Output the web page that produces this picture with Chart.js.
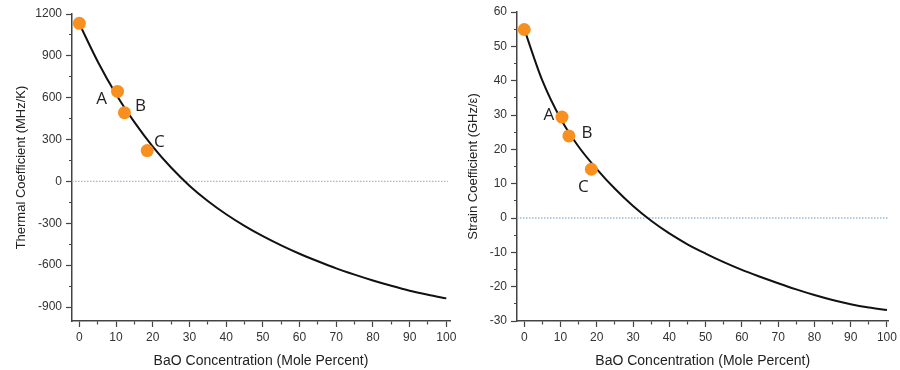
<!DOCTYPE html>
<html>
<head>
<meta charset="utf-8">
<script src="https://cdn.jsdelivr.net/npm/chart.js@4.4.1/dist/chart.umd.min.js"></script>
<style>
  html, body { margin: 0; padding: 0; background: #ffffff; }
  body { width: 900px; height: 370px; position: relative; overflow: hidden; }
  .box { position: absolute; top: 0; height: 370px; }
  #leftBox { left: 0; width: 470px; }
  #rightBox { left: 450px; width: 450px; }
</style>
</head>
<body>
<div class="box" id="leftBox"><canvas id="thermal" width="470" height="370"></canvas></div>
<div class="box" id="rightBox"><canvas id="strain" width="450" height="370"></canvas></div>
<script>
// ---- data ----
const concentration = [0, 5, 10, 15, 20, 25, 30, 35, 40, 45, 50, 55, 60, 65, 70, 75, 80, 85, 90, 95, 100];
const thermalCurve = [1130, 860, 625, 425, 250, 100, -30, -140, -235, -318, -392, -458, -518, -572, -623, -668, -710, -748, -783, -812, -838];
const strainCurve = [55, 40, 29, 20.75, 14.25, 8.5, 3.5, -0.8, -4.5, -7.65, -10.35, -12.85, -15.1, -17.1, -19.0, -20.8, -22.45, -23.9, -25.1, -26.05, -26.8];

const sampleX = [0, 10.4, 12.3, 18.5];
const thermalSamples = [1133, 645, 493, 221];
const strainSamples = [54.9, 29.4, 23.9, 14.2];
const sampleLabels = ['', 'A', 'B', 'C'];

const zeroLineX = [-2, 100.4];
const zeroLineY = [0, 0];

const xTickValues = [0, 5, 10, 15, 20, 25, 30, 35, 40, 45, 50, 55, 60, 65, 70, 75, 80, 85, 90, 95, 100];
const thermalTickValues = [-900, -750, -600, -450, -300, -150, 0, 150, 300, 450, 600, 750, 900, 1050, 1200];
const strainTickValues = [-30, -25, -20, -15, -10, -5, 0, 5, 10, 15, 20, 25, 30, 35, 40, 45, 50, 55, 60];

// ---- styling ----
Chart.defaults.font.family = "'Liberation Sans', Arial, sans-serif";
const axisColor = '#444444';
const textColor = '#333333';
const orange = '#F7901E';

function pairs(xs, ys) { return xs.map((x, i) => ({ x: x, y: ys[i] })); }
function isMajor(v, step) { return Math.abs(v % step) < 1e-9; }

const labelPlugin = {
  id: 'pointLetters',
  afterDatasetsDraw(chart, args, opts) {
    const meta = chart.getDatasetMeta(0);
    const ctx = chart.ctx;
    ctx.save();
    ctx.font = "17px 'Open Sans', 'Liberation Sans', sans-serif";
    ctx.fillStyle = '#222222';
    ctx.textAlign = 'center';
    ctx.textBaseline = 'middle';
    sampleLabels.forEach((t, i) => {
      if (!t) return;
      const el = meta.data[i];
      const off = opts.offsets[i];
      ctx.fillText(t, el.x + off[0], el.y + off[1]);
    });
    ctx.restore();
  }
};

function makeChart(id, curve, samples, yMin, yMax, yTicks, majorStep, yTitle, cfg) {
  return new Chart(document.getElementById(id), {
    type: 'scatter',
    data: {
      datasets: [
        {
          data: pairs(sampleX, samples),
          pointRadius: 6.5,
          pointHoverRadius: 6.5,
          pointBackgroundColor: orange,
          pointBorderColor: orange,
          pointBorderWidth: 0,
          showLine: false
        },
        {
          data: pairs(concentration, curve),
          showLine: true,
          borderColor: '#111111',
          borderWidth: 2,
          pointRadius: 0,
          cubicInterpolationMode: 'monotone'
        },
        {
          data: pairs(zeroLineX, zeroLineY),
          showLine: true,
          borderColor: '#9DB8D2',
          borderWidth: 1.3,
          borderDash: [1.5, 1.5],
          pointRadius: 0
        }
      ]
    },
    options: {
      responsive: false,
      animation: false,
      devicePixelRatio: 1,
      layout: { padding: { top: cfg.top, right: cfg.right, bottom: 0, left: 0 } },
      plugins: {
        legend: { display: false },
        tooltip: { enabled: false },
        pointLetters: { offsets: cfg.offsets }
      },
      scales: {
        x: {
          type: 'linear',
          min: -2,
          max: cfg.xMax,
          afterBuildTicks: s => { s.ticks = xTickValues.map(v => ({ value: v })); },
          afterFit: s => { s.height = 49; },
          border: { display: true, color: axisColor, width: 1.5 },
          grid: {
            drawOnChartArea: false, drawTicks: true, tickLength: 6, tickColor: axisColor, tickWidth: 1.2,
            tickBorderDash: c => (c.tick && isMajor(c.tick.value, 10) ? [] : [3, 20])
          },
          ticks: {
            autoSkip: false, maxRotation: 0, padding: 3, color: textColor,
            font: { size: 12 },
            callback: v => (isMajor(v, 10) ? String(v) : '')
          },
          title: {
            display: true, text: 'BaO Concentration (Mole Percent)', color: '#222222',
            font: { size: 14 }, padding: { top: 3, bottom: 0 }
          }
        },
        y: {
          type: 'linear',
          min: yMin,
          max: yMax,
          afterBuildTicks: s => { s.ticks = yTicks.map(v => ({ value: v })); },
          afterFit: s => { s.width = cfg.yWidth; },
          border: { display: true, color: axisColor, width: 1.5 },
          grid: {
            drawOnChartArea: false, drawTicks: true, tickLength: 6, tickColor: axisColor, tickWidth: 1.2,
            tickBorderDash: c => (c.tick && isMajor(c.tick.value, majorStep) ? [] : [0, 3, 4, 20])
          },
          ticks: {
            autoSkip: false, padding: 4, color: textColor,
            font: { size: 12 },
            callback: v => (isMajor(v, majorStep) ? String(v) : '')
          },
          title: {
            display: true, text: yTitle, color: '#222222',
            font: { size: 13 }, padding: { top: cfg.titlePad, bottom: 0 }
          }
        }
      }
    },
    plugins: [labelPlugin]
  });
}

makeChart('thermal', thermalCurve, thermalSamples, -1000, 1200, thermalTickValues, 300,
  'Thermal Coefficient (MHz/K)',
  { top: 14, right: 20, xMax: 101, yWidth: 72, titlePad: 14,
    offsets: [[0, 0], [-16, 8], [16, -7], [12, -8]] });

makeChart('strain', strainCurve, strainSamples, -30, 60, strainTickValues, 10,
  'Strain Coefficient (GHz/\u03B5)',
  { top: 12, right: 9, xMax: 100.4, yWidth: 67, titlePad: 16,
    offsets: [[0, 0], [-13, -2], [18, -3], [-8, 18]] });
</script>
</body>
</html>
